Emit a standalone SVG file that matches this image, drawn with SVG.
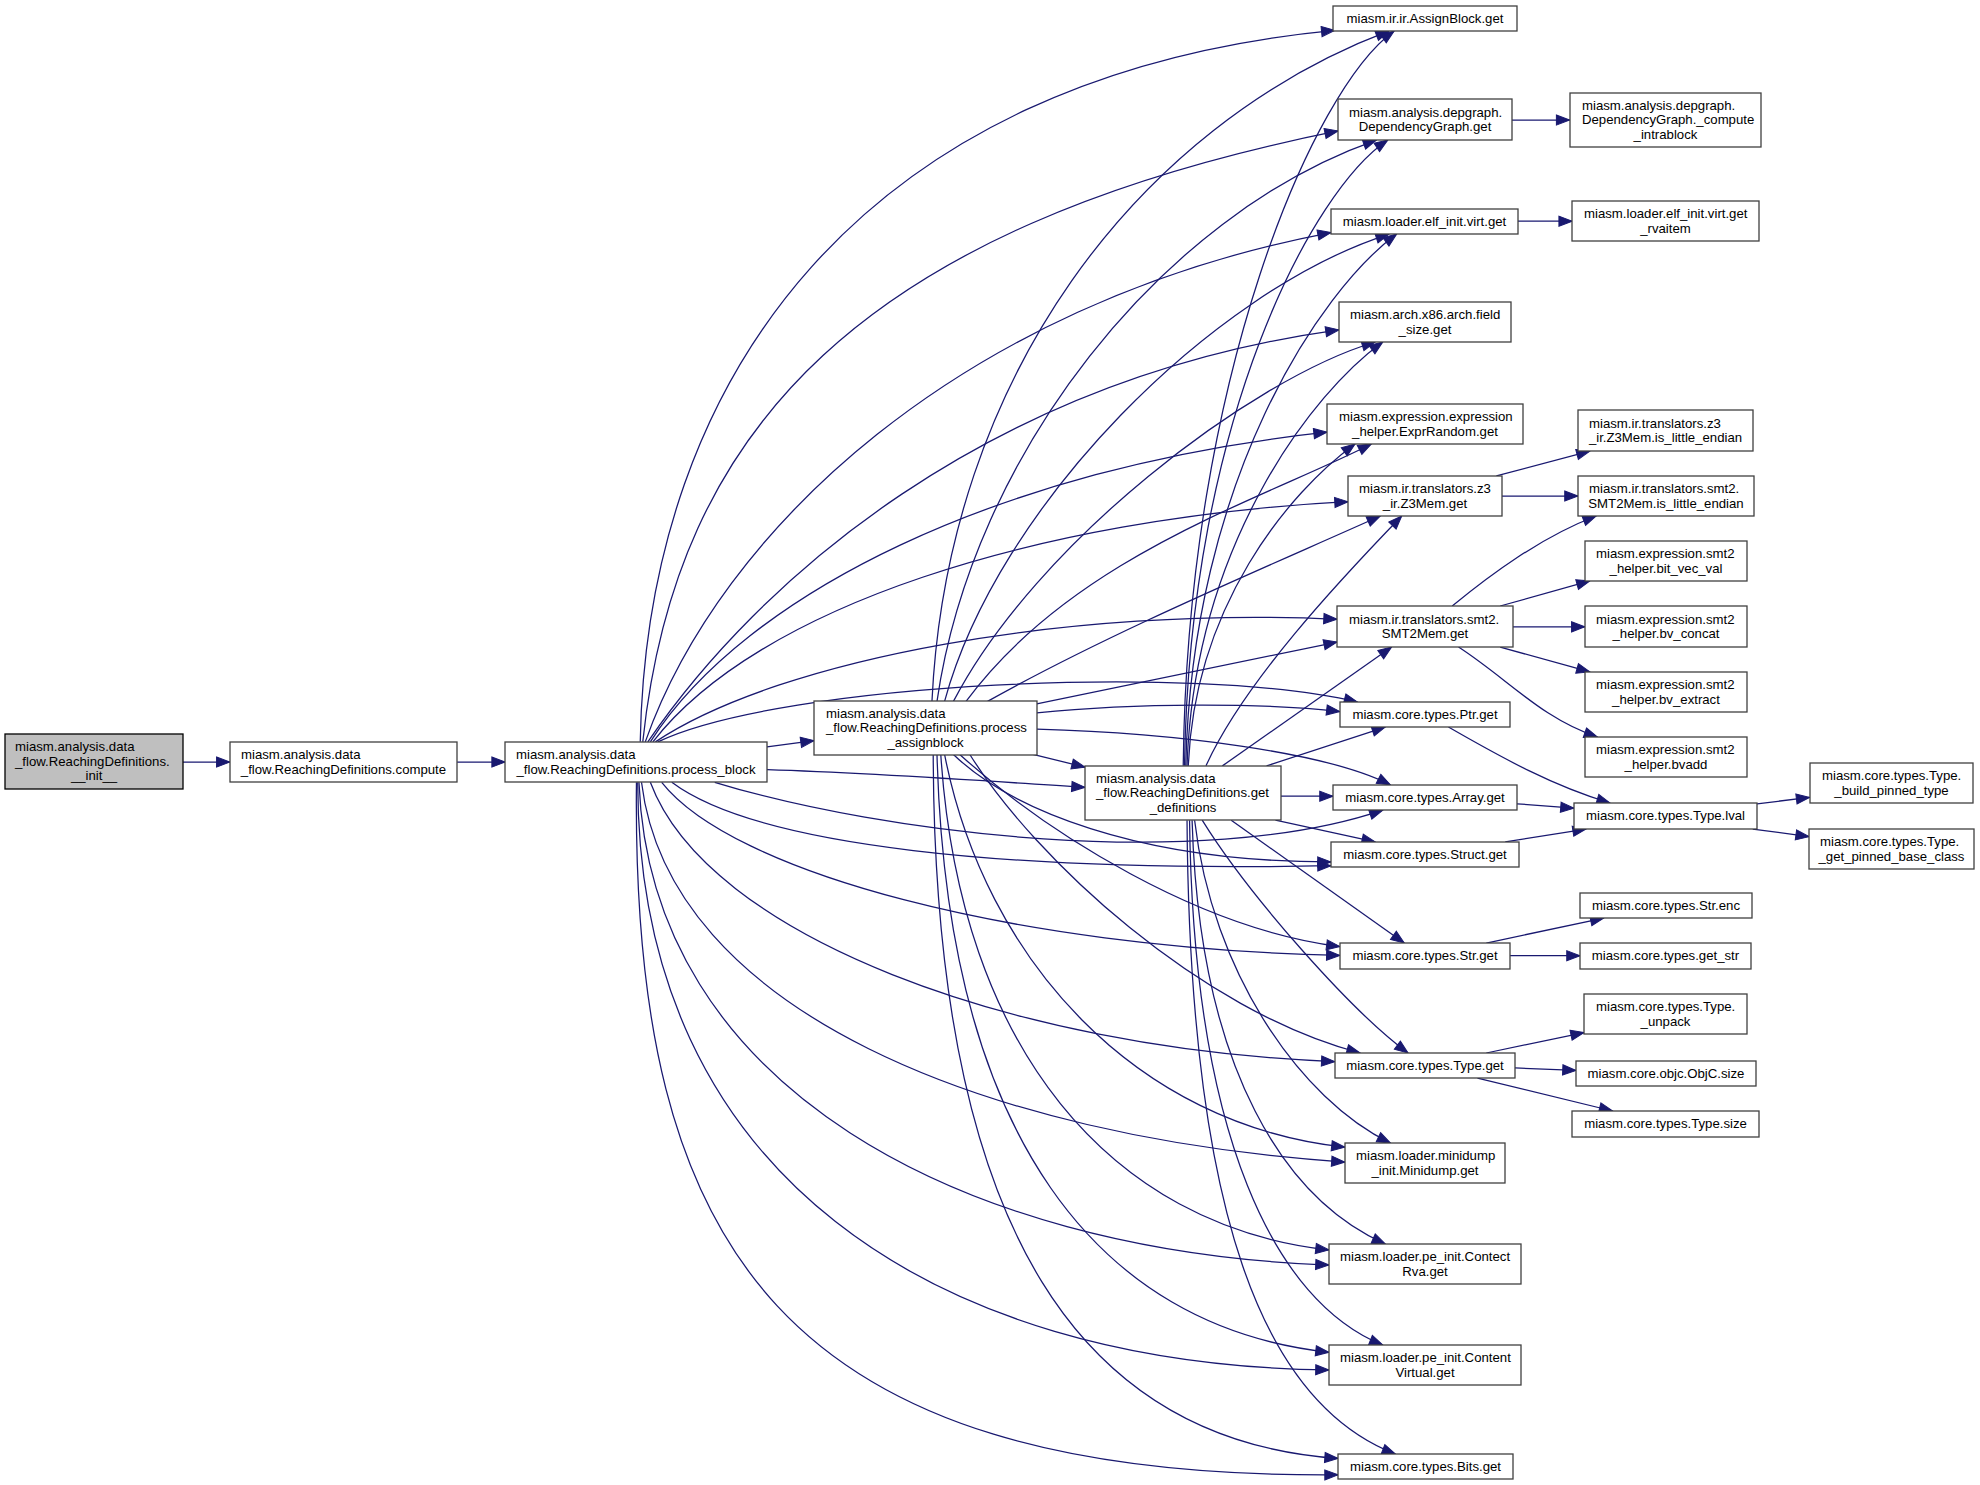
<svg xmlns="http://www.w3.org/2000/svg" width="1980" height="1485" viewBox="0 0 1980 1485">
<defs>
<style>
.n rect{fill:#ffffff;stroke:#404040;stroke-width:1.3}
.root rect{fill:#bfbfbf;stroke:#000000;stroke-width:1.3}
text{font-family:"Liberation Sans",Arial,Helvetica,sans-serif;font-size:13.2px;fill:#000000}
.m{text-anchor:middle}
.e path{fill:none;stroke:#191970;stroke-width:1;marker-end:url(#a)}
</style>
<marker id="a" markerWidth="12" markerHeight="10" refX="10.5" refY="4" orient="auto" markerUnits="userSpaceOnUse" overflow="visible">
<path d="M0,0 L10.5,4 L0,8 z" fill="#191970" stroke="#191970" stroke-width="0.8"/>
</marker>
</defs>
<rect x="0" y="0" width="1980" height="1485" fill="#ffffff"/>

<g id="edges" class="e" transform="scale(1.2628,1.2638)">
<path d="M145,603 L182,603"/>
<path d="M362,603 L400,603"/>
<path d="M607.4,591 L644.6,586"/>
<path d="M607.4,609 C700,612 780,618 859.2,623"/>
<path d="M818,597 L859.2,607"/>
<!-- process_block top fan -->
<path d="M507,587 C512,300 680,60 1057,24"/>
<path d="M509,587 C535,340 680,180 1059.6,103.6"/>
<path d="M511,587 C570,420 760,240 1054,184"/>
<path d="M513,587 C600,460 780,300 1060.3,261"/>
<path d="M515,587 C590,470 790,370 1050.9,342"/>
<path d="M517,587 C600,480 820,410 1067.5,397"/>
<path d="M519,587 C620,520 850,480 1058.8,490"/>
<path d="M521,587 C620,540 950,525 1075,555.5"/>
<!-- process_block bottom fan -->
<path d="M566,619 C700,660 950,690 1095,641"/>
<path d="M532,619 C600,670 800,690 1054,685"/>
<path d="M524,619 C580,690 800,750 1061,756"/>
<path d="M515,619 C560,740 800,830 1057,840"/>
<path d="M508,619 C530,800 780,900 1065,919.5"/>
<path d="M506,619 C515,860 760,990 1052.4,1001"/>
<path d="M505,619 C505,930 740,1080 1052.4,1084"/>
<path d="M504,619 C500,990 620,1170 1059.6,1167"/>
<!-- process_assignblock -->
<path d="M738,555 C750,300 900,100 1100,24.5"/>
<path d="M742,555 C770,360 920,170 1090,110.8"/>
<path d="M748,555 C790,400 960,230 1100,185.2"/>
<path d="M755,555 C820,430 990,300 1089,270.6"/>
<path d="M765,555 C850,440 1000,395 1086,351.3"/>
<path d="M782,555 C880,500 1000,450 1093,408.3"/>
<path d="M821,557 L1058.8,508"/>
<path d="M821,564 C900,556 1000,556 1061,563"/>
<path d="M821,577 C930,580 1050,595 1101,621"/>
<path d="M755,597 C800,640 900,682 1054,682"/>
<path d="M760,597 C830,660 950,735 1061,749"/>
<path d="M768,597 C820,680 950,800 1077,833.2"/>
<path d="M748,597 C780,760 900,890 1065,907.7"/>
<path d="M745,597 C760,830 880,970 1052.4,989"/>
<path d="M742,597 C750,900 870,1050 1052.4,1070"/>
<path d="M739,597 C740,980 860,1140 1059.6,1154"/>
<!-- get_definitions -->
<path d="M937,606 C940,300 1040,70 1104,24.5"/>
<path d="M938,606 C942,330 1040,150 1099,110.8"/>
<path d="M939,606 C944,380 1045,230 1106,185.2"/>
<path d="M940,606 C946,430 1040,310 1095,270.6"/>
<path d="M941,606 C946,480 1020,390 1073,351.3"/>
<path d="M955,606 C985,540 1060,460 1110,408.3"/>
<path d="M968,606 L1102,512"/>
<path d="M1003,606 L1097,575.3"/>
<path d="M1014.4,630 L1055.6,630"/>
<path d="M1010,649 L1089,666.2"/>
<path d="M975,649 L1112,746.2"/>
<path d="M952,649 C990,710 1070,800 1115,833.2"/>
<path d="M946,649 C960,770 1030,870 1101,904.4"/>
<path d="M944,649 C950,850 1020,950 1097,984.3"/>
<path d="M942,649 C945,900 1010,1030 1095,1064.3"/>
<path d="M940,649 C942,960 1000,1110 1105,1150.5"/>
<!-- right column children -->
<path d="M1197.3,95 L1243,95"/>
<path d="M1202,175 L1245,175"/>
<path d="M1185,376.6 L1259,356.9"/>
<path d="M1189.4,392.5 L1249.6,392.5"/>
<path d="M1150,479.5 C1180,455 1220,425 1264,408.3"/>
<path d="M1188,479.5 L1259,459.7"/>
<path d="M1198.1,496 L1255,496"/>
<path d="M1188,512 L1259,531.7"/>
<path d="M1155,512 C1195,538 1220,568 1265,583.2"/>
<path d="M1147,575.3 C1190,600 1230,622 1275,635.4"/>
<path d="M1201.3,636 L1246.4,639.5"/>
<path d="M1192,666.2 L1256,656"/>
<path d="M1177,746.2 L1270,726.4"/>
<path d="M1195.8,756.2 L1251.2,756.2"/>
<path d="M1177,833.2 L1254.4,817"/>
<path d="M1199.7,845 L1248,847"/>
<path d="M1170,853 L1277,879.1"/>
<path d="M1391.4,636 L1433,631"/>
<path d="M1388,656 L1432.6,662"/>
</g>

<g id="n_init" class="root"><rect x="5" y="734" width="178" height="55"/><text x="15" y="751.2">miasm.analysis.data</text><text x="15" y="765.7">_flow.ReachingDefinitions.</text><text class="m" x="94" y="780.2">__init__</text></g>
<g id="n_compute" class="n"><rect x="230" y="742" width="227" height="40"/><text x="241" y="759">miasm.analysis.data</text><text class="m" x="343.5" y="773.5">_flow.ReachingDefinitions.compute</text></g>
<g id="n_process_block" class="n"><rect x="505" y="742" width="262" height="40"/><text x="516" y="759">miasm.analysis.data</text><text class="m" x="636" y="773.5">_flow.ReachingDefinitions.process_block</text></g>
<g id="n_process_assignblock" class="n"><rect x="814" y="701" width="223" height="54"/><text x="826" y="717.7">miasm.analysis.data</text><text x="826" y="732.2">_flow.ReachingDefinitions.process</text><text class="m" x="925.5" y="746.7">_assignblock</text></g>
<g id="n_get_definitions" class="n"><rect x="1085" y="766" width="196" height="54"/><text x="1096" y="782.7">miasm.analysis.data</text><text x="1096" y="797.2">_flow.ReachingDefinitions.get</text><text class="m" x="1183" y="811.7">_definitions</text></g>

<g id="n_assignblock_get" class="n"><rect x="1333" y="6" width="184" height="25"/><text class="m" x="1425" y="22.7">miasm.ir.ir.AssignBlock.get</text></g>
<g id="n_depgraph_get" class="n"><rect x="1338" y="99" width="174" height="41"/><text x="1349" y="116.5">miasm.analysis.depgraph.</text><text class="m" x="1425" y="131">DependencyGraph.get</text></g>
<g id="n_elf_virt_get" class="n"><rect x="1331" y="209" width="187" height="25"/><text class="m" x="1424.5" y="225.7">miasm.loader.elf_init.virt.get</text></g>
<g id="n_field_size_get" class="n"><rect x="1339" y="302" width="172" height="40"/><text x="1350" y="319">miasm.arch.x86.arch.field</text><text class="m" x="1425" y="333.5">_size.get</text></g>
<g id="n_exprrandom_get" class="n"><rect x="1327" y="404" width="196" height="40"/><text x="1339" y="421">miasm.expression.expression</text><text class="m" x="1425" y="435.5">_helper.ExprRandom.get</text></g>
<g id="n_z3mem_get" class="n"><rect x="1348" y="476" width="154" height="40"/><text x="1359" y="493">miasm.ir.translators.z3</text><text class="m" x="1425" y="507.5">_ir.Z3Mem.get</text></g>
<g id="n_smt2mem_get" class="n"><rect x="1337" y="606" width="176" height="41"/><text x="1349" y="623.5">miasm.ir.translators.smt2.</text><text class="m" x="1425" y="638">SMT2Mem.get</text></g>
<g id="n_ptr_get" class="n"><rect x="1340" y="702" width="170" height="25"/><text class="m" x="1425" y="718.7">miasm.core.types.Ptr.get</text></g>
<g id="n_array_get" class="n"><rect x="1333" y="785" width="184" height="25"/><text class="m" x="1425" y="801.7">miasm.core.types.Array.get</text></g>
<g id="n_struct_get" class="n"><rect x="1331" y="842" width="188" height="25"/><text class="m" x="1425" y="858.7">miasm.core.types.Struct.get</text></g>
<g id="n_str_get" class="n"><rect x="1340" y="943" width="170" height="26"/><text class="m" x="1425" y="960.2">miasm.core.types.Str.get</text></g>
<g id="n_type_get" class="n"><rect x="1335" y="1053" width="180" height="25"/><text class="m" x="1425" y="1069.7">miasm.core.types.Type.get</text></g>
<g id="n_minidump_get" class="n"><rect x="1345" y="1143" width="160" height="40"/><text x="1356" y="1160">miasm.loader.minidump</text><text class="m" x="1425" y="1174.5">_init.Minidump.get</text></g>
<g id="n_contectrva_get" class="n"><rect x="1329" y="1244" width="192" height="40"/><text x="1340" y="1261">miasm.loader.pe_init.Contect</text><text class="m" x="1425" y="1275.5">Rva.get</text></g>
<g id="n_contentvirtual_get" class="n"><rect x="1329" y="1345" width="192" height="40"/><text x="1340" y="1362">miasm.loader.pe_init.Content</text><text class="m" x="1425" y="1376.5">Virtual.get</text></g>
<g id="n_bits_get" class="n"><rect x="1338" y="1454" width="175" height="25"/><text class="m" x="1425.5" y="1470.7">miasm.core.types.Bits.get</text></g>

<g id="n_compute_intrablock" class="n"><rect x="1570" y="93" width="191" height="54"/><text x="1582" y="109.7">miasm.analysis.depgraph.</text><text x="1582" y="124.2">DependencyGraph._compute</text><text class="m" x="1665.5" y="138.7">_intrablock</text></g>
<g id="n_get_rvaitem" class="n"><rect x="1572" y="201" width="187" height="40"/><text x="1584" y="218">miasm.loader.elf_init.virt.get</text><text class="m" x="1665.5" y="232.5">_rvaitem</text></g>
<g id="n_z3_is_little_endian" class="n"><rect x="1578" y="410" width="175" height="41"/><text x="1589" y="427.5">miasm.ir.translators.z3</text><text class="m" x="1665.5" y="442">_ir.Z3Mem.is_little_endian</text></g>
<g id="n_smt2_is_little_endian" class="n"><rect x="1578" y="476" width="176" height="40"/><text x="1589" y="493">miasm.ir.translators.smt2.</text><text class="m" x="1666" y="507.5">SMT2Mem.is_little_endian</text></g>
<g id="n_bit_vec_val" class="n"><rect x="1585" y="541" width="162" height="40"/><text x="1596" y="558">miasm.expression.smt2</text><text class="m" x="1666" y="572.5">_helper.bit_vec_val</text></g>
<g id="n_bv_concat" class="n"><rect x="1585" y="606" width="162" height="41"/><text x="1596" y="623.5">miasm.expression.smt2</text><text class="m" x="1666" y="638">_helper.bv_concat</text></g>
<g id="n_bv_extract" class="n"><rect x="1585" y="672" width="162" height="40"/><text x="1596" y="689">miasm.expression.smt2</text><text class="m" x="1666" y="703.5">_helper.bv_extract</text></g>
<g id="n_bvadd" class="n"><rect x="1585" y="737" width="162" height="40"/><text x="1596" y="754">miasm.expression.smt2</text><text class="m" x="1666" y="768.5">_helper.bvadd</text></g>
<g id="n_type_lval" class="n"><rect x="1574" y="803" width="183" height="26"/><text class="m" x="1665.5" y="820.2">miasm.core.types.Type.lval</text></g>
<g id="n_str_enc" class="n"><rect x="1580" y="893" width="172" height="25"/><text class="m" x="1666" y="909.7">miasm.core.types.Str.enc</text></g>
<g id="n_get_str" class="n"><rect x="1580" y="943" width="171" height="26"/><text class="m" x="1665.5" y="960.2">miasm.core.types.get_str</text></g>
<g id="n_type_unpack" class="n"><rect x="1584" y="994" width="163" height="40"/><text x="1596" y="1011">miasm.core.types.Type.</text><text class="m" x="1665.5" y="1025.5">_unpack</text></g>
<g id="n_objc_size" class="n"><rect x="1576" y="1061" width="180" height="25"/><text class="m" x="1666" y="1077.7">miasm.core.objc.ObjC.size</text></g>
<g id="n_type_size" class="n"><rect x="1572" y="1111" width="187" height="26"/><text class="m" x="1665.5" y="1128.2">miasm.core.types.Type.size</text></g>
<g id="n_build_pinned_type" class="n"><rect x="1810" y="763" width="163" height="40"/><text x="1822" y="780">miasm.core.types.Type.</text><text class="m" x="1891.5" y="794.5">_build_pinned_type</text></g>
<g id="n_get_pinned_base_class" class="n"><rect x="1809" y="829" width="165" height="40"/><text x="1820" y="846">miasm.core.types.Type.</text><text class="m" x="1891.5" y="860.5">_get_pinned_base_class</text></g>
</svg>
